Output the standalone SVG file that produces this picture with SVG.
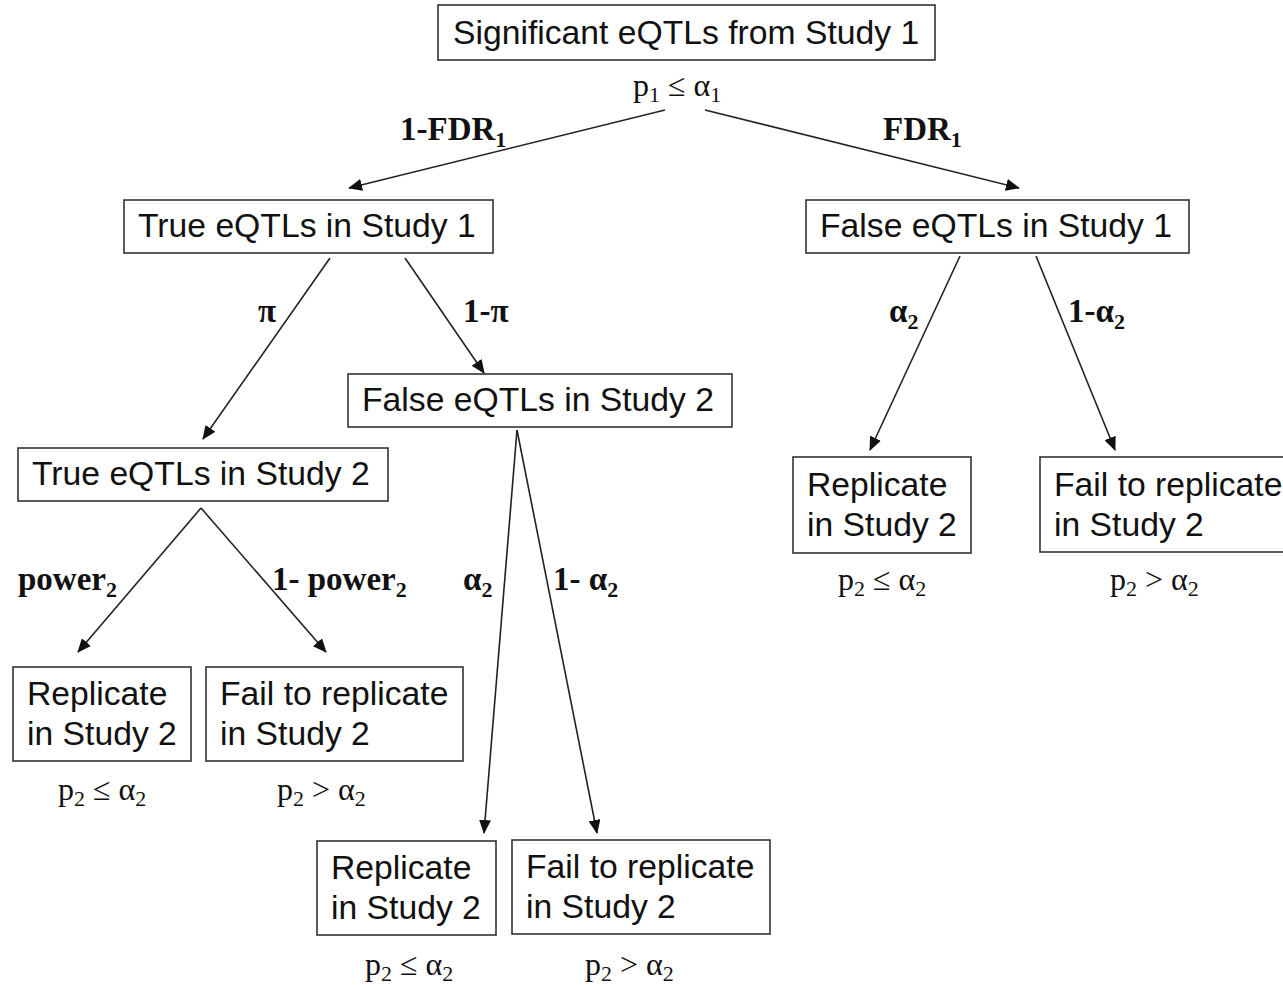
<svg xmlns="http://www.w3.org/2000/svg" width="1283" height="985" viewBox="0 0 1283 985">
<defs>
<marker id="ah" markerUnits="userSpaceOnUse" markerWidth="14" markerHeight="12" viewBox="0 0 14 12" refX="13" refY="6" orient="auto">
<path d="M0,0 L14,6 L0,12 Z" fill="#111"/>
</marker>
<style>
.box{fill:#fff;stroke:#333;stroke-width:1.6}
.t{font-family:"Liberation Sans",Arial,sans-serif;font-size:33.7px;fill:#111}
.p{font-family:"Liberation Serif","Times New Roman",serif;font-size:32px;fill:#111}
.e{font-family:"Liberation Serif","Times New Roman",serif;font-size:33px;font-weight:bold;fill:#111}
.sub{font-size:22px}
.edge{stroke:#222;stroke-width:1.6;fill:none;marker-end:url(#ah)}
</style>
</defs>
<rect width="1283" height="985" fill="#fff"/>
<g id="connectors">
<line class="edge" x1="665" y1="110" x2="349" y2="188"/>
<line class="edge" x1="705" y1="110" x2="1019" y2="188"/>
<line class="edge" x1="330" y1="258" x2="203" y2="439"/>
<line class="edge" x1="405" y1="258" x2="484" y2="373"/>
<line class="edge" x1="201" y1="508" x2="78" y2="652"/>
<line class="edge" x1="201" y1="508" x2="326" y2="652"/>
<line class="edge" x1="517" y1="430" x2="484" y2="833"/>
<line class="edge" x1="517" y1="430" x2="597" y2="833"/>
<line class="edge" x1="960" y1="256" x2="870" y2="450"/>
<line class="edge" x1="1036" y1="256" x2="1115" y2="450"/>
</g>
<g id="edge-labels">
<text class="e" x="400" y="140">1-FDR<tspan class="sub" dy="7">1</tspan></text>
<text class="e" x="883" y="140">FDR<tspan class="sub" dy="7">1</tspan></text>
<text class="e" x="258" y="322">π</text>
<text class="e" x="463" y="322">1-π</text>
<text class="e" x="889" y="322">α<tspan class="sub" dy="7">2</tspan></text>
<text class="e" x="1068" y="322">1-α<tspan class="sub" dy="7">2</tspan></text>
<text class="e" x="18" y="590">power<tspan class="sub" dy="7">2</tspan></text>
<text class="e" x="272" y="590">1- power<tspan class="sub" dy="7">2</tspan></text>
<text class="e" x="463" y="590">α<tspan class="sub" dy="7">2</tspan></text>
<text class="e" x="553" y="590">1- α<tspan class="sub" dy="7">2</tspan></text>
</g>
<g id="n-sig">
<rect class="box" x="438" y="5" width="497" height="55"/>
<text class="t" x="453" y="44">Significant eQTLs from Study 1</text>
<text class="p" x="633" y="96">p<tspan class="sub" dy="6">1</tspan><tspan dy="-6"> ≤ α</tspan><tspan class="sub" dy="6">1</tspan></text>
</g>
<g id="n-true1">
<rect class="box" x="124" y="200" width="369" height="53"/>
<text class="t" x="138" y="237">True eQTLs in Study 1</text>
</g>
<g id="n-false1">
<rect class="box" x="806" y="200" width="383" height="53"/>
<text class="t" x="820" y="237">False eQTLs in Study 1</text>
</g>
<g id="n-false2">
<rect class="box" x="348" y="374" width="384" height="53"/>
<text class="t" x="362" y="411">False eQTLs in Study 2</text>
</g>
<g id="n-true2">
<rect class="box" x="18" y="448" width="370" height="53"/>
<text class="t" x="32" y="485">True eQTLs in Study 2</text>
</g>
<g id="n-rep-a">
<rect class="box" x="13" y="667" width="178" height="94"/>
<text class="t" x="27" y="705">Replicate</text>
<text class="t" x="27" y="745">in Study 2</text>
<text class="p" x="58" y="800">p<tspan class="sub" dy="6">2</tspan><tspan dy="-6"> ≤ α</tspan><tspan class="sub" dy="6">2</tspan></text>
</g>
<g id="n-fail-a">
<rect class="box" x="206" y="667" width="257" height="94"/>
<text class="t" x="220" y="705">Fail to replicate</text>
<text class="t" x="220" y="745">in Study 2</text>
<text class="p" x="277" y="800">p<tspan class="sub" dy="6">2</tspan><tspan dy="-6"> &gt; α</tspan><tspan class="sub" dy="6">2</tspan></text>
</g>
<g id="n-rep-b">
<rect class="box" x="317" y="841" width="179" height="94"/>
<text class="t" x="331" y="879">Replicate</text>
<text class="t" x="331" y="919">in Study 2</text>
<text class="p" x="365" y="975">p<tspan class="sub" dy="6">2</tspan><tspan dy="-6"> ≤ α</tspan><tspan class="sub" dy="6">2</tspan></text>
</g>
<g id="n-fail-b">
<rect class="box" x="512" y="840" width="258" height="94"/>
<text class="t" x="526" y="878">Fail to replicate</text>
<text class="t" x="526" y="918">in Study 2</text>
<text class="p" x="585" y="975">p<tspan class="sub" dy="6">2</tspan><tspan dy="-6"> &gt; α</tspan><tspan class="sub" dy="6">2</tspan></text>
</g>
<g id="n-rep-c">
<rect class="box" x="793" y="457" width="178" height="96"/>
<text class="t" x="807" y="496">Replicate</text>
<text class="t" x="807" y="536">in Study 2</text>
<text class="p" x="838" y="590">p<tspan class="sub" dy="6">2</tspan><tspan dy="-6"> ≤ α</tspan><tspan class="sub" dy="6">2</tspan></text>
</g>
<g id="n-fail-c">
<rect class="box" x="1040" y="457" width="260" height="95"/>
<text class="t" x="1054" y="496">Fail to replicate</text>
<text class="t" x="1054" y="536">in Study 2</text>
<text class="p" x="1110" y="590">p<tspan class="sub" dy="6">2</tspan><tspan dy="-6"> &gt; α</tspan><tspan class="sub" dy="6">2</tspan></text>
</g>
</svg>
